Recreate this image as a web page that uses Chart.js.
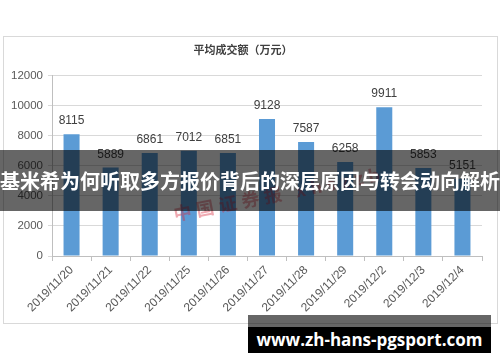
<!DOCTYPE html>
<html lang="zh">
  <head>
    <meta charset="UTF-8" />
    <title>平均成交额（万元）</title>
    <script src="https://cdn.jsdelivr.net/npm/chart.js"></script>
    <style>
      html, body { margin: 0; padding: 0; background: #fff; }
      #wrap { position: relative; width: 500px; height: 362px; overflow: hidden; }
      #banner {
        position: absolute; left: 0; top: 150px; width: 500px; height: 61px;
        background: rgba(0, 0, 0, 0.6); color: #fff;
        font: bold 20px "Noto Sans CJK SC", sans-serif;
        line-height: 61px; text-align: center; white-space: nowrap;
      }
      #stamp {
        position: absolute; left: 176px; top: 200px;
        color: rgba(215, 40, 60, 0.4);
        font: bold 18px "Noto Sans CJK SC", sans-serif; letter-spacing: 5px;
        transform: rotate(-11deg); transform-origin: left bottom; white-space: nowrap;
      }
      #siteBar { position: absolute; left: 248px; top: 315px; width: 243px; height: 12px; background: rgba(0, 0, 0, 0.6); }
      #site {
        position: absolute; left: 248px; top: 327px; width: 243px; height: 26px;
        background: #000; color: #fff; text-align: center;
        font: bold 17px "Open Sans", sans-serif; line-height: 26px; white-space: nowrap;
      }
    </style>
  </head>
  <body>
    <div id="wrap">
      <canvas id="avgChart" width="500" height="362"></canvas>
      <div id="stamp">中国证券报 xhszzb</div>
      <div id="banner">基米希为何听取多方报价背后的深层原因与转会动向解析</div>
      <div id="siteBar"></div>
      <div id="site">www.zh-hans-pgsport.com</div>
    </div>

    <script>
      // 数据
      const dates = [
        "2019/11/20", "2019/11/21", "2019/11/22", "2019/11/25", "2019/11/26", "2019/11/27",
        "2019/11/28", "2019/11/29", "2019/12/2", "2019/12/3", "2019/12/4",
      ];
      const avgAmount = [8115, 5889, 6861, 7012, 6851, 9128, 7587, 6258, 9911, 5853, 5151];
      const yTicks = [0, 2000, 4000, 6000, 8000, 10000, 12000];

      const baseFont = '"Liberation Sans", "Noto Sans CJK SC", sans-serif';

      // 外框 + 数值标签
      const frame = {
        id: "frame",
        beforeDraw(chart) {
          const c = chart.ctx;
          c.save();
          c.fillStyle = "#fff";
          c.fillRect(0, 0, chart.width, chart.height);
          c.strokeStyle = "#d9d9d9";
          c.lineWidth = 1;
          c.strokeRect(3.5, 36.5, 494, 287);
          c.restore();
        },
      };
      const valueLabels = {
        id: "valueLabels",
        afterDatasetsDraw(chart) {
          const c = chart.ctx;
          const meta = chart.getDatasetMeta(0);
          c.save();
          c.font = "12px " + baseFont;
          c.fillStyle = "#404040";
          c.textAlign = "center";
          c.textBaseline = "bottom";
          meta.data.forEach((bar, i) => {
            c.fillText(String(avgAmount[i]), bar.x, bar.y - 7);
          });
          c.restore();
        },
      };

      const ctx = document.getElementById("avgChart").getContext("2d");
      new Chart(ctx, {
        type: "bar",
        data: {
          labels: dates,
          datasets: [
            {
              data: avgAmount,
              backgroundColor: "#5b9bd5",
              categoryPercentage: 1,
              barPercentage: 0.41,
            },
          ],
        },
        options: {
          responsive: false,
          animation: false,
          layout: { padding: { left: 4, right: 18, top: 36, bottom: 44 } },
          plugins: {
            legend: { display: false },
            tooltip: { enabled: false },
            title: {
              display: true,
              text: "平均成交额（万元）",
              color: "#404040",
              font: { family: baseFont, size: 11, weight: "bold" },
              padding: { top: 8, bottom: 18.6 },
            },
          },
          scales: {
            x: {
              grid: {
                offset: true,
                drawOnChartArea: false,
                color: "#bfbfbf",
                tickLength: 5,
              },
              border: { color: "#bfbfbf" },
              ticks: {
                color: "#595959",
                font: { family: baseFont, size: 12 },
                minRotation: 45,
                maxRotation: 45,
                padding: 2,
              },
              afterFit(scale) {
                scale.height = 62;
              },
            },
            y: {
              min: 0,
              max: 12000,
              afterBuildTicks(scale) {
                scale.ticks = yTicks.map((v) => ({ value: v }));
              },
              grid: { color: "#d9d9d9", tickLength: 4 },
              border: { color: "#bfbfbf" },
              ticks: {
                color: "#595959",
                font: { family: baseFont, size: 11.5 },
                padding: 5,
                callback: (v) => String(v),
              },
              afterFit(scale) {
                scale.width = 48;
              },
            },
          },
        },
        plugins: [frame, valueLabels],
      });
    </script>
  </body>
</html>
